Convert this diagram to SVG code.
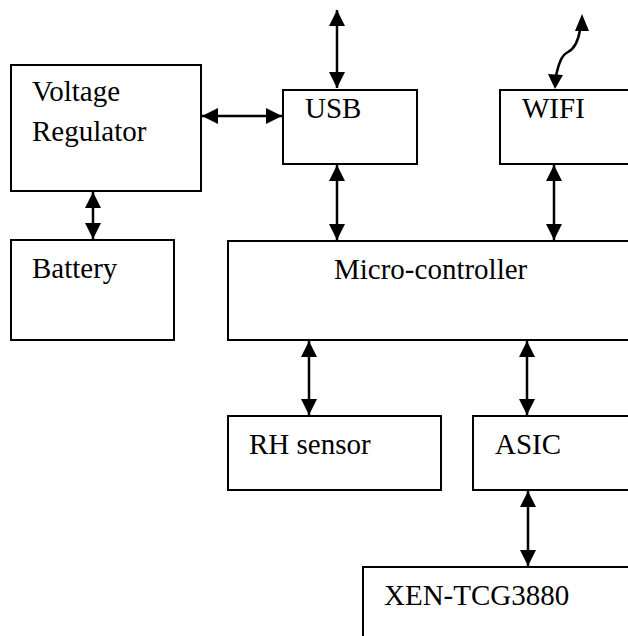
<svg xmlns="http://www.w3.org/2000/svg" width="628" height="636" viewBox="0 0 628 636">
<style>
.box{fill:#fff;stroke:#000;stroke-width:2}
.lbl{font-family:"Liberation Serif","Times New Roman",serif;font-size:29px;fill:#000}
.conn{fill:none;stroke:#000;stroke-width:2.5}
.arr{marker-start:url(#ah);marker-end:url(#ah)}
</style>
<defs>
<marker id="ah" markerUnits="userSpaceOnUse" markerWidth="16" markerHeight="16" viewBox="0 0 15 15" refX="15" refY="7.5" orient="auto-start-reverse">
<path d="M0,0 L15,7.5 L0,15 Z" fill="#000"/>
</marker>
</defs>
<rect width="628" height="636" fill="#fff"/>
<g id="voltage-regulator"><rect class="box" x="11" y="65" width="190" height="126"/><text class="lbl" x="32" y="101">Voltage</text><text class="lbl" x="32" y="141">Regulator</text></g>
<g id="usb"><rect class="box" x="283" y="90" width="134" height="74"/><text class="lbl" x="305" y="118">USB</text></g>
<g id="wifi"><rect class="box" x="500" y="90" width="140" height="74"/><text class="lbl" x="522" y="118">WIFI</text></g>
<g id="battery"><rect class="box" x="11" y="240" width="163" height="100"/><text class="lbl" x="32" y="278">Battery</text></g>
<g id="micro-controller"><rect class="box" x="228" y="241" width="412" height="99"/><text class="lbl" x="334" y="279">Micro-controller</text></g>
<g id="rh-sensor"><rect class="box" x="228" y="416" width="213" height="74"/><text class="lbl" x="249" y="454">RH sensor</text></g>
<g id="asic"><rect class="box" x="473" y="416" width="167" height="74"/><text class="lbl" x="495" y="454">ASIC</text></g>
<g id="xen-tcg3880"><rect class="box" x="363" y="567" width="277" height="90"/><text class="lbl" x="384" y="605">XEN-TCG3880</text></g>
<g id="connectors">
<line class="conn arr" x1="337" y1="10" x2="337" y2="88"/>
<line class="conn arr" x1="202" y1="116" x2="282" y2="116"/>
<line class="conn arr" x1="93" y1="192" x2="93" y2="239"/>
<line class="conn arr" x1="337" y1="165" x2="337" y2="240"/>
<line class="conn arr" x1="554" y1="165" x2="554" y2="240"/>
<line class="conn arr" x1="309" y1="341" x2="309" y2="415"/>
<line class="conn arr" x1="527" y1="341" x2="527" y2="415"/>
<line class="conn arr" x1="528" y1="491" x2="528" y2="566"/>
<path class="conn" d="M556,76 C559,62 562,55 568,52 C574,49 578,42 580,30"/>
<polygon points="555,89 548,74 563,75" fill="#000"/>
<polygon points="582,14 575,31 589,31" fill="#000"/>
</g>
</svg>
